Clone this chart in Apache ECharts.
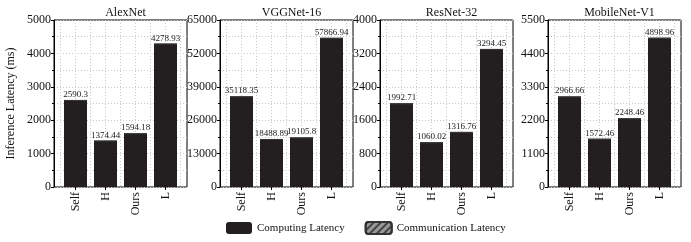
<!DOCTYPE html>
<html>
<head>
<meta charset="utf-8">
<script src="https://cdn.jsdelivr.net/npm/echarts@6/dist/echarts.min.js"></script>
<style>
  html, body { margin: 0; padding: 0; background: #fff; }
  #chart { width: 691px; height: 242px; }
</style>
</head>
<body>
<div id="chart"></div>
<script>
// categories and model names
const categories = ['Self', 'H', 'Ours', 'L'];
const models = ['AlexNet', 'VGGNet-16', 'ResNet-32', 'MobileNet-V1'];

// computing / communication latency (ms) per model
const alexCompute = [2590.3, 1374.44, 1594.18, 4278.93];
const alexComm = [0, 0, 0, 0];
const vggCompute = [35118.35, 18488.89, 19105.8, 57866.94];
const vggComm = [0, 0, 0, 0];
const resCompute = [1992.71, 1060.02, 1296.76, 3294.45];
const resComm = [0, 0, 20, 0];
const mobCompute = [2966.66, 1572.46, 2248.46, 4898.96];
const mobComm = [0, 0, 0, 0];

// y axis ranges
const yMax = [5000, 65000, 4000, 5500];
const yStep = [1000, 13000, 800, 1100];

const computeList = [alexCompute, vggCompute, resCompute, mobCompute];
const commList = [alexComm, vggComm, resComm, mobComm];

let font = 'Liberation Serif';
let panelLeft = [54, 220, 380, 548];
let panelW = 133, inset = 6.5;
let gridTop = 20, gridBottom = 55;

let grid = [], xAxis = [], yAxis = [], series = [], title = [];

panelLeft.forEach((left, i) => {
    // outer frame
    grid.push({
        left: left, width: panelW, top: gridTop, bottom: gridBottom,
        show: true, borderColor: '#000', borderWidth: 1, backgroundColor: 'transparent'
    });
    // inner plotting area
    grid.push({
        left: left + inset, width: panelW - 2 * inset, top: gridTop, bottom: gridBottom
    });
    title.push({
        text: models[i],
        left: left + panelW / 2,
        textAlign: 'center',
        top: 2,
        textStyle: { fontFamily: font, fontSize: 12, fontWeight: 'normal', color: '#111' }
    });
    xAxis.push({ type: 'value', gridIndex: 2 * i, show: false, min: 0, max: 1 });
    xAxis.push({
        type: 'category',
        gridIndex: 2 * i + 1,
        data: categories,
        boundaryGap: true,
        axisLine: { show: false },
        axisTick: { show: true, alignWithLabel: true, length: 3, lineStyle: { color: '#000' } },
        axisLabel: { rotate: 90, margin: 5, fontFamily: font, fontSize: 12, color: '#111' },
        splitLine: { show: false }
    });
    xAxis.push({
        type: 'value',
        gridIndex: 2 * i + 1,
        min: 0, max: 8, interval: 1,
        axisLine: { show: false }, axisTick: { show: false }, axisLabel: { show: false },
        splitLine: { show: true, lineStyle: { color: '#c8c8c8', type: [1, 2], width: 1 } }
    });
    yAxis.push({
        type: 'value',
        gridIndex: 2 * i,
        min: 0, max: yMax[i], interval: yStep[i],
        name: i === 0 ? 'Inference Latency (ms)' : '',
        nameLocation: 'middle',
        nameGap: 37,
        nameTextStyle: { fontFamily: font, fontSize: 12, color: '#111' },
        axisLine: { show: true, lineStyle: { color: '#000' } },
        axisTick: { show: true, length: 3, lineStyle: { color: '#000' } },
        minorTick: { show: true, splitNumber: 2, length: 2, lineStyle: { color: '#000' } },
        axisLabel: { fontFamily: font, fontSize: 12, color: '#111', margin: 3, formatter: v => String(v) },
        splitLine: { show: true, lineStyle: { color: '#c8c8c8', type: [1, 2] } },
        minorSplitLine: { show: true, lineStyle: { color: '#c8c8c8', type: [1, 2] } }
    });
    yAxis.push({
        type: 'value', gridIndex: 2 * i + 1, min: 0, max: yMax[i], interval: yStep[i], show: false
    });

    let comp = computeList[i], comm = commList[i];
    series.push({
        name: 'Computing Latency',
        type: 'bar',
        xAxisIndex: 3 * i + 1,
        yAxisIndex: 2 * i + 1,
        stack: 'p' + i,
        barWidth: 23,
        data: comp,
        itemStyle: { color: '#231f20' }
    });
    series.push({
        name: 'Communication Latency',
        type: 'bar',
        xAxisIndex: 3 * i + 1,
        yAxisIndex: 2 * i + 1,
        stack: 'p' + i,
        barWidth: 23,
        data: comm,
        itemStyle: {
            color: '#9a9a9a', borderColor: '#333', borderWidth: 0.6,
            decal: { color: '#444', dashArrayX: [1, 0], dashArrayY: [1.5, 3], rotation: -Math.PI / 4 }
        },
        label: {
            show: true,
            position: 'top',
            distance: 1,
            fontFamily: font,
            fontSize: 9,
            color: '#222',
            formatter: p => Number((comp[p.dataIndex] + comm[p.dataIndex]).toFixed(2)).toString()
        }
    });
});

let chart = echarts.init(document.getElementById('chart'), null, { renderer: 'canvas' });
chart.setOption({
    animation: false,
    backgroundColor: '#fff',
    title: title,
    grid: grid,
    xAxis: xAxis,
    yAxis: yAxis,
    legend: {
        data: ['Computing Latency', 'Communication Latency'],
        bottom: 2,
        left: 221,
        itemWidth: 26,
        itemHeight: 12,
        itemGap: 20,
        textStyle: { fontFamily: font, fontSize: 11, color: '#111' }
    },
    series: series
});
</script>
</body>
</html>
